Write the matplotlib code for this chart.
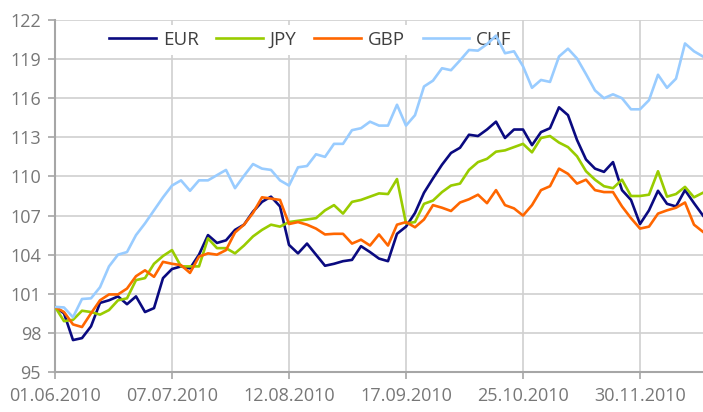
import matplotlib
matplotlib.use('Agg')
import matplotlib.pyplot as plt
import numpy as np
import pandas as pd

plt.rcParams['font.family'] = ['Open Sans', 'DejaVu Sans']

# Business-day calendar from 01.06.2010; values sampled every 2nd business day
start_date = '2010-06-01'
n_days = 145
sample_step = 2
tick_step = 26

series_names = ['EUR', 'JPY', 'GBP', 'CHF']
series_colors = ['#0a0a80', '#99cc00', '#ff6600', '#99ccff']

eur = [100.0, 99.5, 97.45, 97.6, 98.5, 100.3, 100.5, 100.8, 100.2, 100.8,
       99.6, 99.9, 102.2, 102.9, 103.1, 102.95, 104.0, 105.5, 104.9, 105.1,
       105.9, 106.3, 107.3, 108.05, 108.45, 107.7, 104.75, 104.1, 104.85, 104.0,
       103.15, 103.3, 103.5, 103.6, 104.65, 104.2, 103.7, 103.5, 105.6, 106.15,
       107.2, 108.75, 109.85, 110.9, 111.8, 112.2, 113.2, 113.1, 113.6, 114.2,
       112.95, 113.6, 113.6, 112.4, 113.4, 113.7, 115.3, 114.7, 112.8, 111.3,
       110.6, 110.35, 111.1, 108.95, 108.2, 106.35, 107.4, 108.9, 107.9, 107.7,
       108.95, 107.95, 107.0]

jpy = [100.0, 98.9, 99.0, 99.7, 99.6, 99.4, 99.75, 100.5, 100.65, 102.05,
       102.2, 103.3, 103.9, 104.35, 103.1, 103.1, 103.1, 105.25, 104.5, 104.5,
       104.1, 104.7, 105.4, 105.9, 106.3, 106.15, 106.5, 106.6, 106.7, 106.8,
       107.4, 107.8, 107.15, 108.05, 108.2, 108.45, 108.7, 108.65, 109.8, 106.4,
       106.5, 107.9, 108.15, 108.8, 109.3, 109.45, 110.5, 111.1, 111.35, 111.9,
       112.0, 112.25, 112.5, 111.85, 112.95, 113.1, 112.6, 112.25, 111.55, 110.4,
       109.75, 109.25, 109.1, 109.75, 108.5, 108.5, 108.6, 110.4, 108.45, 108.65,
       109.2, 108.4, 108.75]

gbp = [100.0, 99.6, 98.65, 98.45, 99.5, 100.5, 100.95, 100.95, 101.4, 102.35,
       102.8, 102.3, 103.45, 103.3, 103.2, 102.6, 103.85, 104.1, 104.0, 104.35,
       105.7, 106.3, 107.2, 108.4, 108.3, 108.2, 106.35, 106.5, 106.3, 106.0,
       105.55, 105.6, 105.6, 104.85, 105.15, 104.7, 105.55, 104.7, 106.3, 106.5,
       106.1, 106.7, 107.8, 107.6, 107.35, 108.0, 108.25, 108.6, 107.95, 108.95,
       107.8, 107.55, 107.0, 107.8, 108.95, 109.25, 110.6, 110.2, 109.45, 109.75,
       108.95, 108.8, 108.8, 107.7, 106.8, 106.0, 106.15, 107.15, 107.4, 107.6,
       108.0, 106.3, 105.75]

chf = [100.0, 99.95, 99.2, 100.6, 100.65, 101.5, 103.1, 104.0, 104.2, 105.5,
       106.4, 107.4, 108.4, 109.3, 109.7, 108.9, 109.7, 109.7, 110.1, 110.5,
       109.1, 110.05, 110.95, 110.6, 110.5, 109.7, 109.3, 110.7, 110.8, 111.7,
       111.5, 112.5, 112.5, 113.55, 113.7, 114.2, 113.9, 113.9, 115.5, 113.9,
       114.7, 116.9, 117.35, 118.3, 118.15, 118.9, 119.7, 119.65, 120.15, 120.8,
       119.45, 119.6, 118.45, 116.8, 117.4, 117.25, 119.2, 119.8, 119.05, 117.85,
       116.6, 116.0, 116.3, 116.0, 115.15, 115.15, 115.85, 117.8, 116.8, 117.5,
       120.2, 119.6, 119.2]

y_ticks = [95, 98, 101, 104, 107, 110, 113, 116, 119, 122]

dates = pd.bdate_range(start_date, periods=n_days)
day_idx = np.arange(n_days)
sample_idx = day_idx[::sample_step]
tick_idx = day_idx[::tick_step]
tick_labels = [dates[i].strftime('%d.%m.%Y') for i in tick_idx]

fig = plt.figure(figsize=(7.03, 4.12), dpi=100)
ax = fig.add_axes([55/703, 40/412, 648/703, 352/412])

for name, vals, color in zip(series_names, [eur, jpy, gbp, chf], series_colors):
    ax.plot(sample_idx, vals, color=color, lw=1.9, label=name, zorder=3)

ax.set_xlim(0, n_days - 1)
ax.set_ylim(y_ticks[0], y_ticks[-1])
ax.set_yticks(y_ticks)
ax.set_xticks(tick_idx)
ax.set_xticklabels(tick_labels)

ax.grid(True, color='#d0d0d0', lw=1.2)
ax.set_axisbelow(True)
for s in ['top', 'right']:
    ax.spines[s].set_visible(False)
for s in ['left', 'bottom']:
    ax.spines[s].set_color('#a6a6a6')
    ax.spines[s].set_linewidth(1.5)

ax.tick_params(axis='both', colors='#a6a6a6', labelcolor='#777777',
               labelsize=13, length=5, width=1.2)
ax.tick_params(axis='y', pad=5)
ax.tick_params(axis='x', pad=6)

leg = ax.legend(ncol=4, loc='upper left', bbox_to_anchor=(0.075, 0.985),
                frameon=True, fontsize=13.5, handlelength=2.5, handletextpad=0.35,
                columnspacing=0.95, borderpad=0.3, borderaxespad=0, fancybox=False)
leg.get_frame().set_facecolor('white')
leg.get_frame().set_edgecolor('none')
leg.get_frame().set_alpha(1)
for t in leg.get_texts():
    t.set_color('#404040')
leg.set_zorder(2.5)

fig.savefig('out.png', dpi=100)
